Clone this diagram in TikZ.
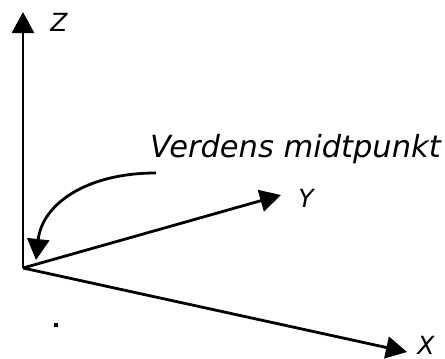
\documentclass[tikz,border=0pt]{standalone}
\usepackage{fontspec}
\setmainfont{DejaVu Sans}
\usetikzlibrary{arrows.meta}
\begin{document}
\begin{tikzpicture}[x=1pt,y=-1pt,
  axis/.style={line width=2.8pt,-{Triangle[length=21pt,width=22pt]}},
  lbl/.style={font=\fontsize{25}{25}\selectfont\itshape,inner sep=0pt},
  note/.style={font=\fontsize{30.5}{30.5}\selectfont\itshape,inner sep=0pt,anchor=base west}]
\useasboundingbox (0,0) rectangle (445,359);
\coordinate (O) at (23,268);
\coordinate (Zt) at (23,12);
\coordinate (Yt) at (281,195);
\coordinate (Xt) at (407,352);
\coordinate (Cs) at (156,173);
\coordinate (Ct) at (36,260);
\draw[axis] (O) -- (Zt);
\draw[axis] (O) -- (Yt);
\draw[axis] (O) -- (Xt);
\node[lbl] (zl) at (59,22) {Z};
\node[lbl] (yl) at (306,198) {Y};
\node[lbl] (xl) at (426,345) {X};
\node[note] (txt) at (150,157) {Verdens midtpunkt};
\draw[axis] (Cs) .. controls (85,173) and (42,205) .. (Ct);
\node[fill=black,minimum size=3.5pt,inner sep=0pt] (dot) at (56,325) {};
\end{tikzpicture}
\end{document}
